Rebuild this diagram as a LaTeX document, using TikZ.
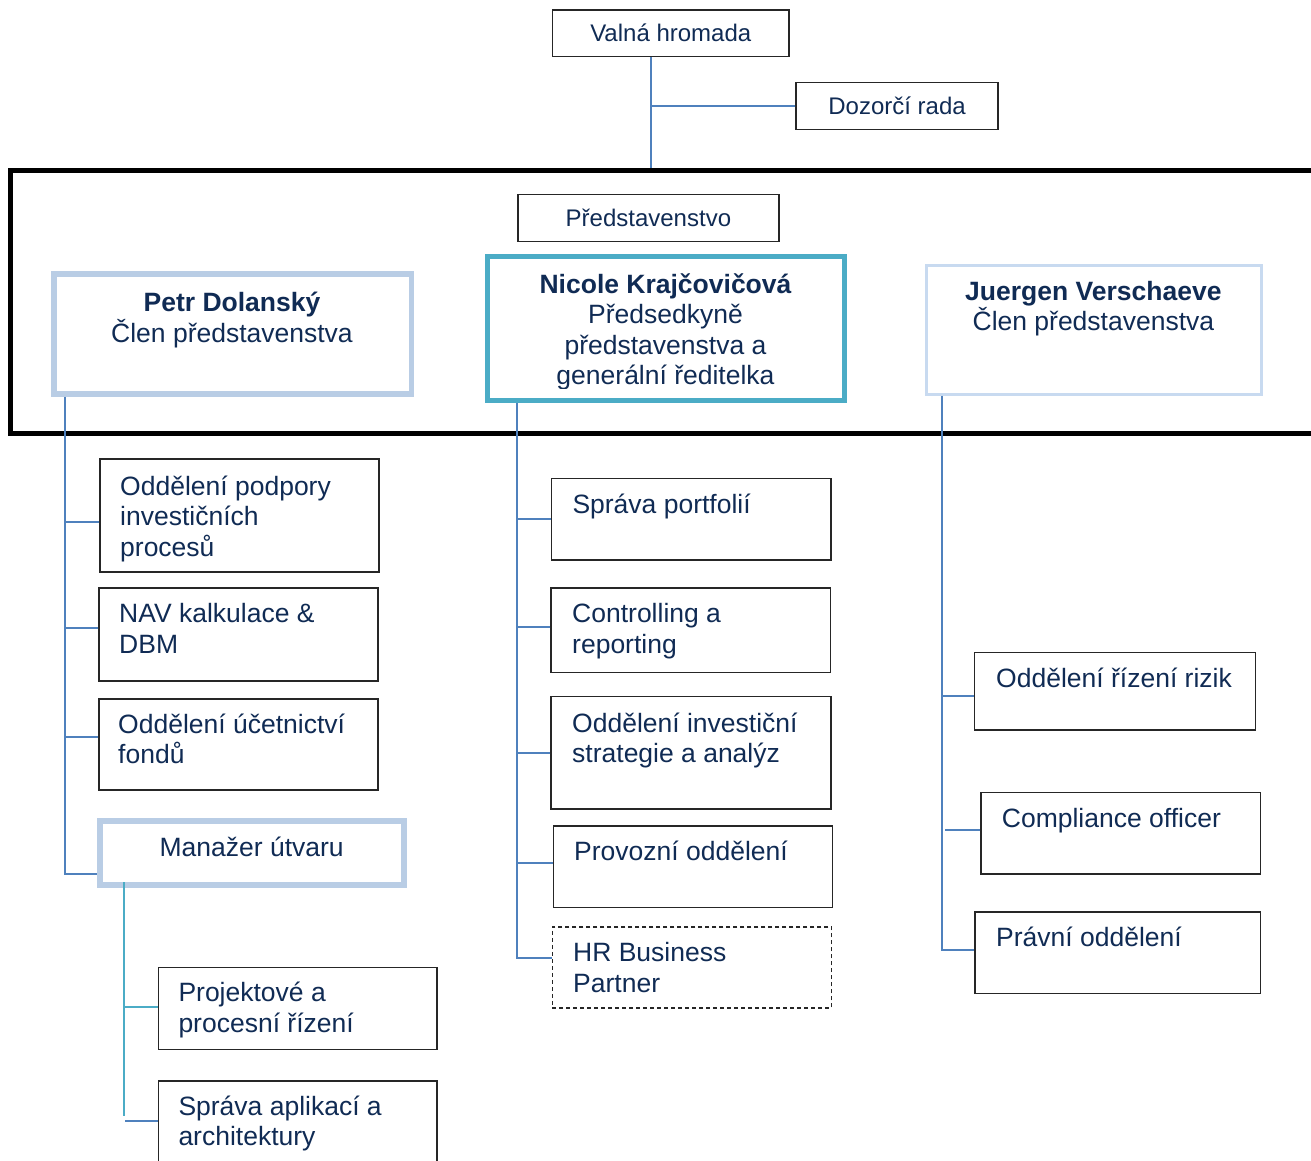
\documentclass[tikz,border=0pt]{standalone}
\usepackage{fontspec}
\setmainfont{Liberation Sans}
\definecolor{navy}{RGB}{16,43,84}
\definecolor{connblue}{RGB}{79,129,189}
\definecolor{lightb}{RGB}{185,205,229}
\definecolor{lighterb}{RGB}{200,218,240}
\definecolor{tealb}{RGB}{75,172,198}
\newcommand\mlL[1]{\vtop{\baselineskip=30.5pt\lineskiplimit=-100pt\lineskip=0pt\halign{##\hfil\cr#1\crcr}}}
\newcommand\mlC[1]{\vtop{\baselineskip=30.5pt\lineskiplimit=-100pt\lineskip=0pt\halign{\hfil##\hfil\cr#1\crcr}}}
\tikzset{
  conn/.style={draw=connblue, line width=2pt},
  tconn/.style={draw=tealb, line width=2pt},
  box/.style={draw=black!85, line width=1.5pt, inner sep=0pt, anchor=center},
  topbox/.style={box, text=navy, font=\fontsize{24}{28}\selectfont, text height=17pt, text depth=0pt},
  txt/.style={anchor=base west, inner sep=0pt, text=navy, font=\fontsize{26.5}{30.5}\selectfont},
  ctxt/.style={txt, anchor=base},
}
\begin{document}
\begin{tikzpicture}[x=1pt,y=-1pt]
\useasboundingbox (0,0) rectangle (1311,1160);
% board frame
\node[draw=black, line width=5pt, inner sep=0pt, minimum width=1310pt, minimum height=262.7pt] (board) at (665,302.15) {};
% top boxes
\node[topbox, minimum width=236.9pt, minimum height=46.7pt] (valna) at (670.75,33.35) {Valná hromada};
\node[topbox, minimum width=202.2pt, minimum height=46.6pt] (dozor) at (897.1,106) {Dozorčí rada};
\node[topbox, minimum width=261pt, minimum height=47pt] (pred) at (648.4,217.8) {Představenstvo};
% board members
\node[draw=lightb, line width=5.5pt, inner sep=0pt, minimum width=357.5pt, minimum height=120pt] (petr) at (232.75,334) {};
\node[ctxt] (petrT) at (232,311.7) {\mlC{\bfseries Petr Dolanský\cr Člen představenstva}};
\node[draw=tealb, line width=5pt, inner sep=0pt, minimum width=357pt, minimum height=144.3pt] (nicole) at (666,328.65) {};
\begin{scope}
\clip (490,259) rectangle (842,388.5);
\node[ctxt] (nicoleT) at (665.5,293.3) {\mlC{\bfseries Nicole Krajčovičová\cr Předsedkyně\cr představenstva a\cr generální ředitelka}};
\end{scope}
\node[draw=lighterb, line width=3pt, inner sep=0pt, minimum width=335pt, minimum height=128.7pt] (juergen) at (1094.2,329.65) {};
\node[ctxt] (juergenT) at (1093.4,300) {\mlC{\bfseries Juergen Verschaeve\cr Člen představenstva}};
% left column
\node[box, minimum width=279pt, minimum height=113pt] (d1) at (239.5,515.5) {};
\node[txt] (d1T) at (120,495) {\mlL{Oddělení podpory\cr investičních\cr procesů}};
\node[box, minimum width=279pt, minimum height=93pt] (d2) at (238.5,634.5) {};
\node[txt] (d2T) at (119,622.7) {\mlL{NAV kalkulace \&\cr DBM}};
\node[box, minimum width=279pt, minimum height=91pt] (d3) at (238.5,744.5) {};
\node[txt] (d3T) at (118,733) {\mlL{Oddělení účetnictví\cr fondů}};
\node[draw=lightb, line width=5.5pt, inner sep=0pt, minimum width=304pt, minimum height=64pt] (man) at (252,853) {};
\node[ctxt] (manT) at (251.7,856.7) {Manažer útvaru};
\node[box, minimum width=278.7pt, minimum height=81.6pt] (proj) at (297.65,1008.5) {};
\node[txt] (projT) at (178.3,1001.7) {\mlL{Projektové a\cr procesní řízení}};
\node[box, minimum width=278.7pt, minimum height=110pt] (app) at (297.65,1136) {};
\node[txt] (appT) at (178.3,1115) {\mlL{Správa aplikací a\cr architektury}};
% middle column
\node[box, minimum width=279.3pt, minimum height=81.4pt] (sp) at (691.35,519.3) {};
\node[txt] (spT) at (572.3,513.6) {Správa portfolií};
\node[box, minimum width=279.7pt, minimum height=84.6pt] (ctrl) at (690.85,630.2) {};
\node[txt] (ctrlT) at (572,622.5) {\mlL{Controlling a\cr reporting}};
\node[box, minimum width=280pt, minimum height=112.6pt] (inv) at (691,752.7) {};
\node[txt] (invT) at (572,732) {\mlL{Oddělení investiční\cr strategie a analýz}};
\node[box, minimum width=279.4pt, minimum height=81.5pt] (prov) at (693,866.75) {};
\node[txt] (provT) at (574,860) {Provozní oddělení};
\node[box, dash pattern=on 4pt off 3pt, minimum width=279.4pt, minimum height=81.2pt] (hr) at (692,967.4) {};
\node[txt] (hrT) at (573,961.8) {\mlL{HR Business\cr Partner}};
% right column
\node[box, minimum width=281.4pt, minimum height=77.7pt] (rz) at (1115,691.15) {};
\node[txt] (rzT) at (996,687.3) {Oddělení řízení rizik};
\node[box, minimum width=279.3pt, minimum height=81.7pt] (comp) at (1120.65,833.15) {};
\node[txt] (compT) at (1001.7,827.3) {Compliance officer};
\node[box, minimum width=285.3pt, minimum height=81.7pt] (pr) at (1117.65,952.85) {};
\node[txt] (prT) at (996,946) {Právní oddělení};
% connectors top
\coordinate (vt) at ([xshift=-19.65pt]valna.south);
\draw[conn] (vt) -- (vt |- board.north);
\draw[conn] (dozor.west) -- (dozor.west -| vt);
% left trunk
\draw[conn] ([xshift=13.45pt]petr.south west) |- ([yshift=-21pt]man.west);
\draw[conn] ([yshift=-6.2pt]d1.west) -- +(-34.55,0);
\draw[conn] ([yshift=6.5pt]d2.west) -- +(-33.55,0);
\draw[conn] ([yshift=7.5pt]d3.west) -- +(-33.55,0);
% manager trunk
\coordinate (mt) at ([xshift=26.45pt,yshift=5.75pt]man.south west);
\draw[tconn] (mt) |- ([yshift=1.2pt]proj.west);
\draw[tconn] (mt) -- ++(0,233.7);
\draw[conn] ([yshift=15.3pt]app.west) -- +(-32.5,0);
% middle trunk
\draw[conn] ([xshift=31.7pt]nicole.south west) |- ([yshift=9.2pt]hr.west);
\draw[conn] (sp.west) -- +(-34.25,0);
\draw[conn] ([yshift=3.4pt]ctrl.west) -- +(-33.55,0);
\draw[conn] (inv.west) -- +(-33.55,0);
\draw[conn] ([yshift=3.8pt]prov.west) -- +(-35.85,0);
% right trunk
\draw[conn] ([xshift=16.5pt]juergen.south west) |- ([yshift=2.6pt]pr.west);
\draw[conn] ([yshift=-4.8pt]rz.west) -- +(-31.85,0);
\draw[conn] ([yshift=2.9pt]comp.west) -- +(-35.25,0);
\end{tikzpicture}
\end{document}
